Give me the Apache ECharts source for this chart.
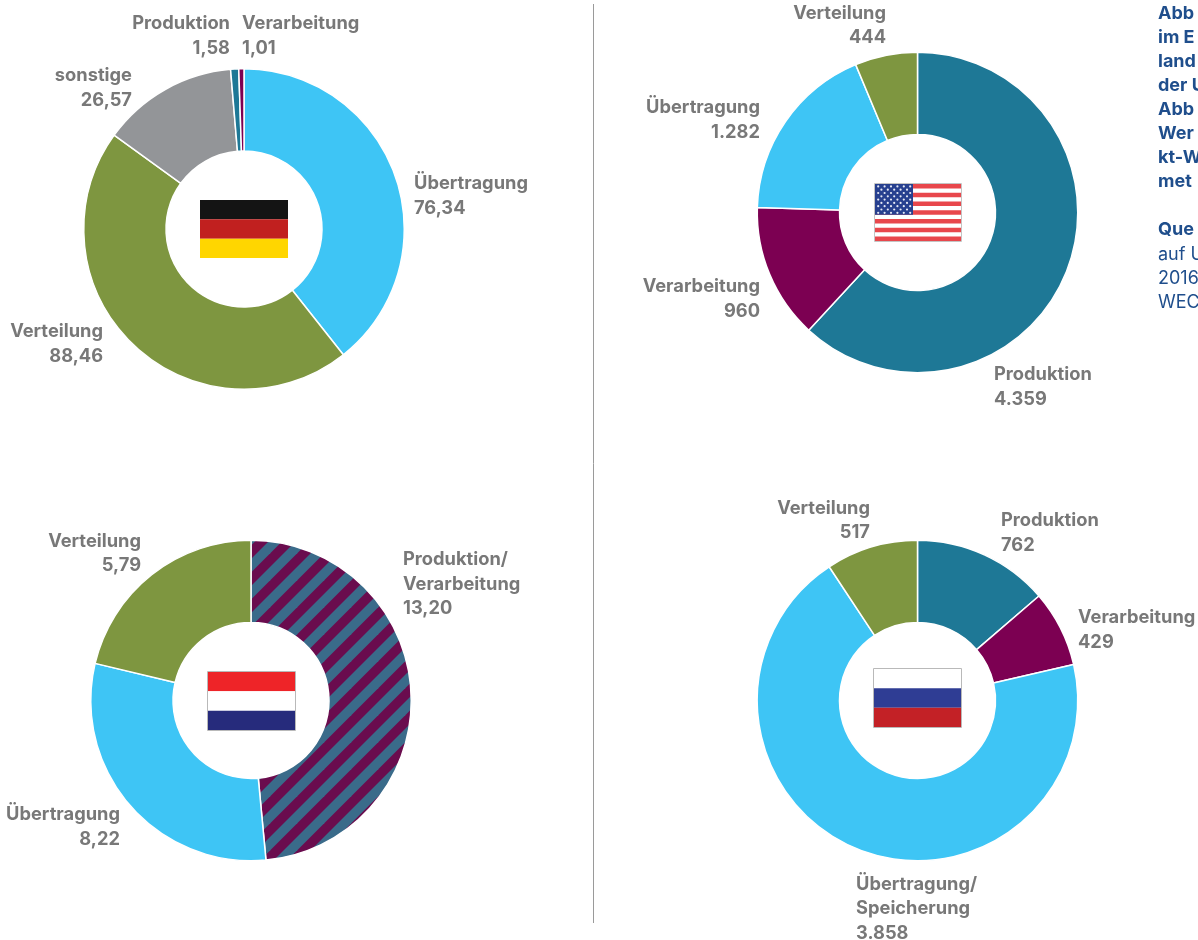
<!DOCTYPE html>
<html><head><meta charset="utf-8">
<style>html,body{margin:0;padding:0;background:#fff}#c{width:1198px;height:940px}</style>
<script src="https://cdn.jsdelivr.net/npm/echarts@6/dist/echarts.min.js"></script>
</head><body><div id="c"></div>
<script>
// ---- data ----
const deNames = ['Übertragung','Verteilung','sonstige','Produktion','Verarbeitung'];
const deValues = [76.34,88.46,26.57,1.58,1.01];
const usNames = ['Produktion','Verarbeitung','Übertragung','Verteilung'];
const usValues = [4359,960,1282,444];
const nlNames = ['Produktion/\nVerarbeitung','Übertragung','Verteilung'];
const nlValues = [13.20,8.22,5.79];
const ruNames = ['Produktion','Verarbeitung','Übertragung/\nSpeicherung','Verteilung'];
const ruValues = [762,429,3858,517];
const noteBold = ['Abb','im E','land','der U','Abb','Wer','kt-W','met','','Que'];
const noteRegular = ['auf U','2016','WEC'];

// ---- styles / layout ----
const C = {blue:'#3ec5f5',green:'#7e9640',grey:'#939598',teal:'#1e7896',purple:'#7c0052'};
const FONT = 'Inter, "Noto Sans", sans-serif';
function stripes(){
  const s=27, cv=document.createElement('canvas'); cv.width=s; cv.height=s;
  const g=cv.getContext('2d');
  g.fillStyle='#6a0c4e'; g.fillRect(0,0,s,s);
  g.fillStyle='#3a6b8a';
  const band=(o)=>{g.beginPath();g.moveTo(o,s);g.lineTo(o+s,0);g.lineTo(o+s+s/2,0);g.lineTo(o+s/2,s);g.closePath();g.fill();};
  band(-s);band(0);band(-2*s);band(s);
  return cv;
}
const pies = [
 {names:deNames,values:deValues,dec:2,cx:244,cy:229,colors:[C.blue,C.green,C.grey,C.teal,C.purple],
  labels:[[414,196,'left'],[103,344,'right'],[132,88,'right'],[230,36,'right'],[242,36,'left']]},
 {names:usNames,values:usValues,dec:0,cx:917.5,cy:212.5,colors:[C.teal,C.purple,C.blue,C.green],
  labels:[[994,387,'left'],[760,299,'right'],[760,120,'right'],[886,25.5,'right']]},
 {names:nlNames,values:nlValues,dec:2,cx:251,cy:700.5,colors:[{image:stripes(),repeat:'repeat'},C.blue,C.green],
  labels:[[403,584.5,'left'],[120,827,'right'],[141,553.5,'right']]},
 {names:ruNames,values:ruValues,dec:0,cx:917.5,cy:700.5,colors:[C.teal,C.purple,C.blue,C.green],
  labels:[[1001,533,'left'],[1078,630,'left'],[856,909,'left'],[870,520.5,'right']]}
];
function fmt(v,dec){
  if(dec) return v.toFixed(dec).replace('.',',');
  return String(v).replace(/\B(?=(\d{3})+$)/g,'.');
}
const series = pies.map(p=>({
  type:'pie',center:[p.cx,p.cy],radius:[78,160.25],startAngle:90,clockwise:true,
  silent:true,animation:false,avoidLabelOverlap:false,
  itemStyle:{borderColor:'#fff',borderWidth:1.5},
  labelLine:{show:false},
  label:{show:true,position:'outside',color:'#787878',fontFamily:FONT,fontWeight:700,fontSize:18.3,lineHeight:24.5,
         formatter:q=>q.name+'\n'+fmt(q.value,p.dec)},
  labelLayout:q=>{const l=p.labels[q.dataIndex];return {x:l[0],y:l[1],align:l[2],verticalAlign:'middle',hideOverlap:false};},
  data:p.names.map((n,i)=>({name:n,value:p.values[i],itemStyle:{color:p.colors[i]}}))
}));

// ---- flags ----
function rect(x,y,w,h,fill,extra){return Object.assign({type:'rect',shape:{x,y,width:w,height:h},style:{fill},silent:true},extra||{});}
function tricolor(x,y,w,h,cols,border){
  const out=[];const b=h/3;
  cols.forEach((c,i)=>out.push(rect(x,y+i*b,w,b,c)));
  if(border) out.push({type:'rect',shape:{x:x-.5,y:y-.5,width:w+1,height:h+1},style:{fill:'none',stroke:'#b9b9b9',lineWidth:1},silent:true});
  return out;
}
function usFlag(x,y,w,h){
  const out=[rect(x,y,w,h,'#fff')];const sh=h/13;
  for(let i=0;i<13;i+=2) out.push(rect(x,y+i*sh,w,sh,'#e8474c'));
  const cw=38,ch=sh*7;
  out.push(rect(x,y,cw,ch,'#27408f'));
  for(let r=0;r<9;r++){
    const n=r%2?5:6;
    for(let k=0;k<n;k++){
      const sx=x+3.2+(r%2?3.2:0)+k*6.4, sy=y+2.4+r*3.3;
      out.push({type:'circle',shape:{cx:sx,cy:sy,r:1.1},style:{fill:'#e6e9f5'},silent:true});
    }
  }
  out.push({type:'rect',shape:{x:x-.5,y:y-.5,width:w+1,height:h+1},style:{fill:'none',stroke:'#c4c4c4',lineWidth:1},silent:true});
  return out;
}
const flags=[
  ...tricolor(200,200,88,58,['#141414','#c1201f','#ffd600'],false),
  ...usFlag(875,184,86,57),
  ...tricolor(208,672,87,58,['#ee2428','#ffffff','#262b7c'],true),
  ...tricolor(874,669,87,58,['#ffffff','#2f3d94','#c32126'],true)
];
const noteColor='#1f4e8c';
const graphic=[
  {type:'line',shape:{x1:593.5,y1:4,x2:593.5,y2:923},style:{stroke:'#9a9a9a',lineWidth:1},silent:true},
  {type:'text',x:1158,y:2,silent:true,style:{text:noteBold.join('\n'),fill:noteColor,font:'700 18px '+FONT,lineHeight:24,textBaseline:'top'}},
  {type:'text',x:1158,y:243,silent:true,style:{text:noteRegular.join('\n'),fill:noteColor,font:'400 18px '+FONT,lineHeight:24,textBaseline:'top'}},
  ...flags
];
const chart=echarts.init(document.getElementById('c'),null,{renderer:'canvas'});
chart.setOption({animation:false,backgroundColor:'#fff',series,graphic:{elements:graphic}});
</script></body></html>
